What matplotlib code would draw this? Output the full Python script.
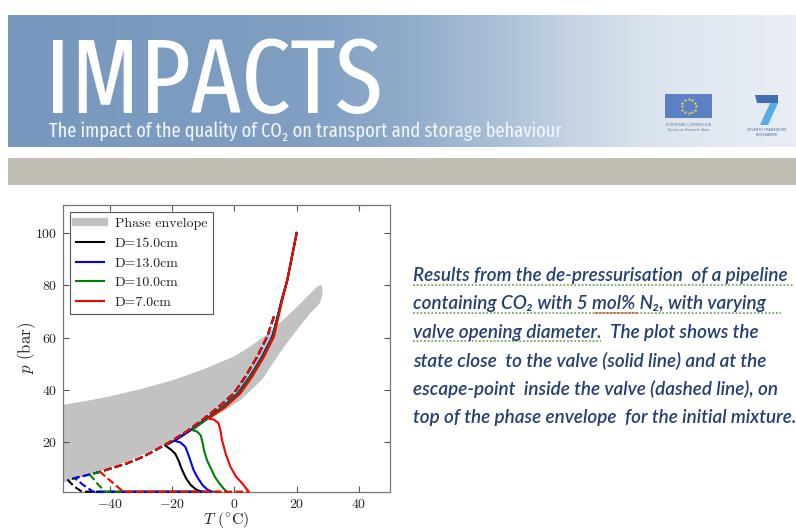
import matplotlib
matplotlib.use("Agg")
import matplotlib.pyplot as plt
import numpy as np
from matplotlib import font_manager
from matplotlib.font_manager import FontProperties
from matplotlib.textpath import TextPath
from matplotlib.lines import Line2D
from matplotlib.patches import Rectangle, Polygon
from matplotlib.colors import LinearSegmentedColormap

plt.rcParams["font.family"] = "serif"
plt.rcParams["font.serif"] = ["cmr10"]
plt.rcParams["mathtext.fontset"] = "cm"
plt.rcParams["axes.formatter.use_mathtext"] = True

# ---- phase envelope (T in degC, p in bar), upper edge then lower edge
env_upper_T = [-55, -45, -40, -30, -20, -10, 0, 5, 10, 15, 20, 24, 26.5, 27.8, 28.3]
env_upper_p = [34.2, 36.3, 37.5, 40.3, 43.6, 47.8, 52.8, 56.5, 60.8, 66.0, 71.6, 76.4, 79.3, 80.2, 78.8]
env_lower_T = [28.2, 27.6, 26.5, 24.5, 20.5, 16.0, 12.0, 9.0, 5.0, 1.9, -4.0, -8.5, -14.0, -20.0, -26.0, -34.6, -43.0, -50.0, -55.0]
env_lower_p = [76.0, 73.5, 71.8, 69.5, 63.5, 56.5, 49.5, 44.0, 39.5, 36.0, 31.5, 28.5, 24.5, 20.5, 17.0, 12.5, 9.0, 6.3, 4.5]

# ---- state close to the valve (solid)
black_solid_T = [20.0, 17.0, 15.2, 14.0, 12.2, 8.9, 5.0, 1.1, -3.8, -9.0, -14.0, -19.3, -22.3, -20.5, -19.0, -17.8, -17.0, -15.5, -14.0, -12.3, -10.5]
black_solid_p = [100, 82, 74.4, 68.6, 60.3, 52.6, 45.0, 38.6, 33.3, 28.8, 24.6, 20.5, 18.7, 17.2, 15.5, 12.5, 9.8, 6.0, 3.5, 1.8, 1.0]
blue_solid_T = [20.0, 17.0, 15.2, 14.0, 12.2, 8.9, 5.0, 1.1, -3.8, -9.0, -14.0, -19.3, -17.3, -15.8, -15.0, -14.2, -13.2, -12.0, -10.3, -8.7, -7.2]
blue_solid_p = [100, 82, 74.4, 68.6, 60.3, 52.6, 45.0, 38.6, 33.3, 28.8, 24.6, 20.5, 19.8, 18.2, 15.8, 13.1, 9.5, 6.7, 3.6, 1.8, 1.0]
green_solid_T = [20.0, 17.0, 15.3, 14.1, 12.4, 9.1, 5.2, 1.3, -3.6, -8.8, -13.6, -12.0, -10.8, -10.2, -9.7, -8.8, -7.6, -6.2, -4.6, -3.2, -2.4]
green_solid_p = [100, 82, 74.4, 68.6, 60.3, 52.6, 45.0, 38.6, 33.3, 28.8, 24.6, 24.0, 22.5, 19.5, 16.5, 13.0, 10.0, 6.5, 3.8, 1.8, 1.0]
red_solid_T = [20.0, 17.0, 15.4, 14.3, 12.7, 9.5, 5.7, 1.9, -3.0, -8.3, -6.6, -5.1, -4.5, -4.0, -2.8, -1.3, 0.5, 2.5, 3.8, 4.6]
red_solid_p = [100, 82, 74.4, 68.6, 60.3, 52.6, 45.0, 38.6, 33.3, 29.0, 28.6, 27.2, 24.5, 20.8, 15.5, 10.6, 6.8, 4.2, 2.2, 1.0]

# ---- escape point inside the valve (dashed)
black_dash_T = [12.7, 10.5, 7.3, 3.5, -0.2, -5.0, -10.5, -16.0, -22.3, -29.3, -34.6, -43.2, -46.5, -51.3, -53.5, -51.5, -49.0, -10.5]
black_dash_p = [68.0, 60.3, 52.6, 45.0, 38.6, 33.5, 28.3, 23.5, 18.9, 14.4, 11.8, 8.6, 7.6, 6.2, 5.4, 3.0, 1.0, 1.0]
blue_dash_T = [12.7, 10.5, 7.3, 3.5, -0.2, -5.0, -10.5, -16.0, -22.3, -29.3, -34.6, -43.2, -46.5, -51.3, -48.5, -45.4, -7.2]
blue_dash_p = [68.0, 60.3, 52.6, 45.0, 38.6, 33.5, 28.3, 23.5, 18.9, 14.4, 11.8, 8.6, 7.6, 6.2, 3.5, 1.0, 1.0]
green_dash_T = [12.7, 10.5, 7.3, 3.5, -0.2, -5.0, -10.5, -16.0, -22.3, -29.3, -34.6, -43.2, -46.5, -44.0, -41.6, -2.4]
green_dash_p = [68.0, 60.3, 52.6, 45.0, 38.6, 33.5, 28.3, 23.5, 18.9, 14.4, 11.8, 8.6, 7.6, 4.0, 1.0, 1.0]
red_dash_T = [12.7, 10.5, 7.3, 3.5, -0.2, -5.0, -10.5, -16.0, -22.3, -29.3, -34.6, -43.2, -39.5, -35.7, 4.6]
red_dash_p = [68.0, 60.3, 52.6, 45.0, 38.6, 33.5, 28.3, 23.5, 18.9, 14.4, 11.8, 8.6, 4.8, 1.0, 1.0]

labels = ["Phase envelope", "D=15.0cm", "D=13.0cm", "D=10.0cm", "D=7.0cm"]
x_ticks = [-40, -20, 0, 20, 40]
y_ticks = [20, 40, 60, 80, 100]

title = "IMPACTS"
subtitle = "The impact of the quality of CO\u2082 on transport and storage behaviour"
para = [
    "Results from the de-pressurisation  of a pipeline",
    "containing CO\u2082 with 5 mol% N\u2082, with varying",
    "valve opening diameter.  The plot shows the",
    "state close  to the valve (solid line) and at the",
    "escape-point  inside the valve (dashed line), on",
    "top of the phase envelope  for the initial mixture.",
]
para_widths = [377, 350, 344, 364, 365]   # pixel width of lines 1-5 in the slide

W, H = 796, 532
fig = plt.figure(figsize=(W / 100, H / 100), dpi=100)
fig.patch.set_facecolor("white")

# background canvas in pixel coordinates (y down)
bg = fig.add_axes([0, 0, 1, 1], zorder=0)
bg.axis("off")
stops = [(0.0, "#7798be"), (0.36, "#7f9ec2"), (0.5, "#8fabca"), (0.62, "#a9bfd6"),
         (0.72, "#c6d4e3"), (0.82, "#dbe4ee"), (1.0, "#e9eef4")]
cmap = LinearSegmentedColormap.from_list("banner", stops)
bg.imshow(np.linspace(0, 1, 500)[None, :], cmap=cmap, aspect="auto",
          extent=(8, W, 147, 15), zorder=0)
bg.add_patch(Rectangle((8, 158), W - 8, 27, color="#c0bdb2", lw=0))

# logos
bg.add_patch(Rectangle((665, 94), 47, 24, color="#5d80c2", lw=0, zorder=2))
ang = np.deg2rad(np.arange(0, 360, 30))
bg.scatter(688.5 + 7 * np.cos(ang), 106 + 7 * np.sin(ang), marker="*", s=7,
           color="#eedc55", lw=0, zorder=3)
bg.text(688.5, 125, "EUROPEAN COMMISSION", fontsize=2.6, ha="center", va="center",
        color="#6b7f99", family="DejaVu Sans")
bg.text(688.5, 130, "European Research Area", fontsize=2.4, ha="center", va="center",
        color="#6b7f99", family="DejaVu Sans")
bg.add_patch(Polygon([(755, 95), (778, 95), (778, 103), (757, 103)], color="#3f6fb2", lw=0, zorder=2))
bg.add_patch(Polygon([(770, 103), (778, 103), (768, 125), (760, 125)], color="#55aee3", lw=0, zorder=2))
bg.text(767, 130, "SEVENTH FRAMEWORK", fontsize=2.4, ha="center", va="center",
        color="#4a6f9a", family="DejaVu Sans")
bg.text(767, 134.5, "PROGRAMME", fontsize=2.4, ha="center", va="center",
        color="#4a6f9a", family="DejaVu Sans")


def pick_condensed():
    best = None
    for f in font_manager.fontManager.ttflist:
        if f.stretch != "condensed" or f.style != "normal":
            continue
        w = f.weight if isinstance(f.weight, int) else font_manager.weight_dict.get(f.weight, 400)
        name = f.fname.lower()
        score = abs(w - 380) + (0 if "extra" in name else (20 if "narrow" in name else 60))
        if best is None or score < best[0]:
            best = (score, f)
    return best[1] if best else None


def ink(s, prop):
    return TextPath((0, 0), s, size=100, prop=prop).get_extents()


cf = pick_condensed()
if cf is not None:
    title_prop = FontProperties(fname=cf.fname)
    sub_family = [cf.name, "DejaVu Sans"]
else:
    title_prop = FontProperties(family="DejaVu Sans")
    sub_family = ["DejaVu Sans"]

ext = ink(title, title_prop)
size = min(302 * 1.08 / (ext.width / 100), 83 / (ext.height / 100)) * 0.72
bg.text(53 - ext.x0 / 100 * size / 0.72, 113, title, fontproperties=title_prop,
        fontsize=size, color="white", va="baseline", ha="left", zorder=3)

ext = ink(subtitle.replace("\u2082", "2"), title_prop)
size = 513 / (ext.width / 100) * 0.72
bg.text(49 - ext.x0 / 100 * size / 0.72, 137, subtitle, family=sub_family,
        fontstretch="condensed", fontsize=size, color="#f2f6fa", va="baseline",
        ha="left", zorder=3)

# paragraph on the right
pcol = "#253f72"
pprop = FontProperties(family="Lato", style="italic", weight="semibold")
scales = [wd / (ink(line.replace("\u2082", "2"), pprop).width / 100)
          for wd, line in zip(para_widths, para)]
psize = float(np.mean(scales)) * 0.72
k = psize / 0.72 / 100
x0 = 413
for i, line in enumerate(para):
    yb = 281 + i * 28.4
    bg.text(x0, yb, line, family=["Lato", "DejaVu Sans"], style="italic",
            weight="semibold", fontsize=psize, color=pcol, va="baseline", ha="left", zorder=3)
    if i < 3:
        if i == 2:
            xe = x0 + ink("valve opening diameter.", pprop).x1 * k
        else:
            xe = x0 + ink(line.replace("\u2082", "2"), pprop).x1 * k + 5
        bg.plot([x0, xe], [yb + 3.5, yb + 3.5], color="#5a9e45", lw=1.1,
                ls=(0, (1.2, 1.2)), zorder=2)
    if i == 1:
        xs = x0 + ink("containing CO2 with 5", pprop).x1 * k + 3
        xm = xs + ink("mol%", pprop).width * k
        bg.plot([xs, xm], [yb + 3.5, yb + 3.5], color="#d23a2a", lw=1.1,
                ls=(0, (1.2, 1.2)), zorder=3)

bg.set_xlim(0, W)
bg.set_ylim(H, 0)

# ---- the chart
ax = fig.add_axes([63.3 / W, 1 - 491.7 / H, (390 - 63.3) / W, (491.7 - 205) / H], zorder=2)
ax.fill(env_upper_T + env_lower_T, env_upper_p + env_lower_p, color="#c2c2c2", lw=0, zorder=1)

ax.plot(black_solid_T, black_solid_p, color="k", lw=1.5, zorder=3)
ax.plot(blue_solid_T, blue_solid_p, color="b", lw=1.5, zorder=3)
ax.plot(green_solid_T, green_solid_p, color="g", lw=1.5, zorder=3)
ax.plot(red_solid_T, red_solid_p, color="r", lw=1.5, zorder=3)
ax.plot(black_dash_T, black_dash_p, color="k", lw=1.5, ls="--", zorder=4, clip_on=False)
ax.plot(blue_dash_T, blue_dash_p, color="b", lw=1.5, ls="--", zorder=4, clip_on=False)
ax.plot(green_dash_T, green_dash_p, color="g", lw=1.5, ls="--", zorder=4, clip_on=False)
ax.plot(red_dash_T, red_dash_p, color="r", lw=1.5, ls="--", zorder=4, clip_on=False)

ax.set_xlim(-55, 50)
ax.set_ylim(1, 110.7)
ax.set_xticks(x_ticks)
ax.set_yticks(y_ticks)
ax.tick_params(direction="in", top=True, right=True, length=4, width=0.8,
               labelsize=10, pad=4.5, color="#555555", labelcolor="#222222")
for s in ax.spines.values():
    s.set_color("#777777")
    s.set_linewidth(0.9)
ax.set_xlabel(r"$T$ ($^{\circ}$C)", fontsize=11.5, labelpad=-0.6, color="#222222")
ax.set_ylabel(r"$p$ (bar)", fontsize=12, labelpad=-2, color="#222222")

handles = [Line2D([], [], color="#c2c2c2", lw=6),
           Line2D([], [], color="k", lw=1.5),
           Line2D([], [], color="b", lw=1.5),
           Line2D([], [], color="g", lw=1.5),
           Line2D([], [], color="r", lw=1.5)]
leg = ax.legend(handles, labels, loc="upper left", fancybox=False, fontsize=10,
                framealpha=1, edgecolor="#555555", borderaxespad=0.5)
leg.get_frame().set_linewidth(0.8)
for t in leg.get_texts():
    t.set_color("#222222")

fig.savefig("out.png", dpi=100)
